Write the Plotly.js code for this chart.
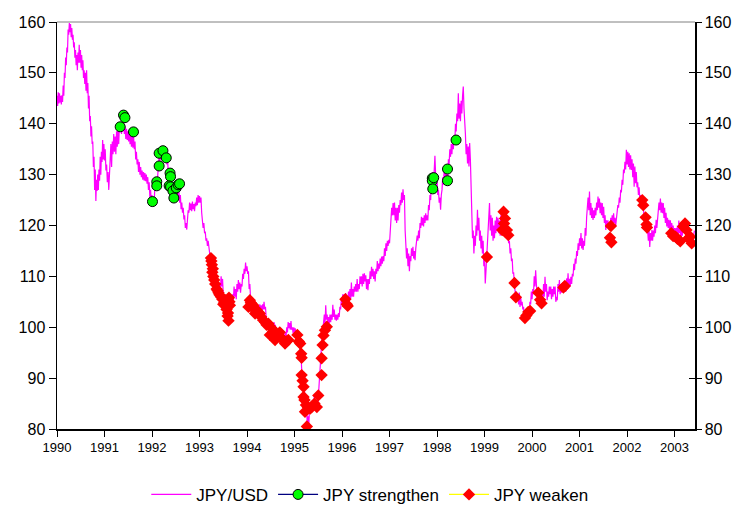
<!DOCTYPE html>
<html>
<head>
<meta charset="utf-8">
<script src="https://cdn.plot.ly/plotly-3.0.1.min.js"></script>
<style>html,body{margin:0;padding:0;background:#fff}#chart{width:744px;height:506px}</style>
</head>
<body>
<div id="chart"></div>
<script>
// JPY/USD readings, evenly spaced within each calendar year
const jpy1990 = [145.5,143.5,146.2,144,146,144.2,145.5,143.8,145.6,144.3,147.5,145.5,150,149,153,151.5,155,154,158.5,157.5,159.8,158,159.6,157,158.8,156.5,157.5,155,156,153,154.5,151.5,153.5,150.5,154,152,155.5,152,154.5,151,153.5,150.5,152.5,149,150.5,147.8,150,146.5,150.5,146,148,143,145.5,140.5,141.5,137.5,139.5,136,136.5,131.5,133.5,127,131,124.8,129,126.8,130,127,131,128.8,133.5,130,134.5,132.5,136.8,133,136];
const jpy1991 = [132.8,135,130.8,132,128.5,130.5,127,131,133,136,131.5,136.5,134,138,134.5,137.5,134,138.5,135.5,139,136,139.5,138.5,140.4,138,140,138.5,140.2,138,139.5,137,139,136.8,138.5,136.5,138.8,136,138.5,135.5,138,135.3,137.5,135,136.5,133,134.5,132,133,130.5,132.5,130,131.5,129.5,130.8,129,130.5,128.8,130.3,128.7,130,128.2,129.5,127,128.5,125.5,127,124];
const jpy1992 = [126,123.7,125.5,124.5,127.5,126.8,128.8,127.8,130,131,133.5,132.5,134.5,133,134.8,133.5,134.3,132.5,134,132.5,133.5,132,132.8,130.2,131,128.5,130,127,128.3,125.7,127.8,126,128.2,126.5,127.8,125.5,127.3,125,126.7,124.5,126,123.2,124.5,122.5,123.5,121.2,122,119.5,120.5,119.2,121.5,123,122.5,124.5,123,124.3,122.8,124.7,123.2,124.2,122.8,124.5,123.8,125.5,124,126,124.5];
const jpy1993 = [125.8,124.5,125.5,122.5,121,119.5,120.5,118.5,118.8,117,117.5,116,117,115.5,114.5,113.5,114,112,111.5,110.5,111,109.5,110.5,108.5,109.5,107.5,108.5,107,108.5,107.5,110,108,109.5,106.5,106,104.5,105,103.5,104,101.5,101,102.5,104,103.5,105.5,104.5,106.5,105.3,108,106,107.5,105.5,108.5,107,109.3,107.5,108.8,106.8,108.5,108,110.5,109.5,111.5,110.5,112.7,111];
const jpy1994 = [112,110.5,111,107.5,108.5,105.5,106,104.5,105.5,103.5,104.5,102.5,103.5,102,103.5,102.5,104,102.8,104.5,103,104.3,102.5,104.5,103.5,105,103.5,104,102,101.5,100,101,99.5,100.5,99,99.8,98.5,100,99.5,101,99.5,100.5,98.5,99.5,98,99,97.5,98.5,97,98.5,97.5,98.5,97,98.5,97.5,99,98,100,99,101,99.8,100.8,99.5,101.2,99.5,100,98.8,100];
const jpy1995 = [99,99.8,98.5,99.2,97.5,98,96.5,97,94.5,95,92,91,89,89.5,87,86,83.5,84,81,82.5,80.5,83.5,84,83.5,85,84,85.5,84.5,86.5,84.5,85.5,84,86,85,87.5,88.5,90.5,93.5,96,98.5,99.5,100.5,102.5,100.5,104.3,101.5,102.5,100.7,102,100.8,102.5,101,102.5,101.5,104.4,102,103.5,101.5,102.5,101.3,102.5,101.5,102.8,102,104,103.5,105.5];
const jpy1996 = [104.5,106.5,104.8,106.5,105,106.7,105,106,105,107,105.5,107.5,105.5,108.8,106,107.5,106,108,107,108.5,107,109.5,107,108.5,107.5,110,108.5,110,108,110.5,108.5,110.6,109,110.2,107.5,109.5,107.3,109.5,108.5,111,109.5,111.9,110,111.5,109.5,111,109,111.5,110.5,113,111,112.5,111.5,113.5,112,113.9,112.5,114,113,115.5,114,116.5,115,117,116,117.2];
const jpy1997 = [116.5,119.5,121,123.5,122,124.4,122,124.5,121,123.5,120.5,123.5,121,124,122.5,125,124,126.5,124.5,127.1,125,126,119,116,113.5,115.5,112,114.5,111,114,113,115.5,114,115.8,113.5,115,113.2,115.5,116.5,118,117,119,117.5,120.5,119.5,121.7,120,121.5,119.8,122,120.5,122.4,121,122,121,124,123,126,125,129,127.5,130.5,128,131,133.7,130,128];
const jpy1998 = [129,126,127,124.5,125.5,123.1,126,127,129.5,128,131,129,131.6,129.5,131,128.5,133,132,135,133.5,136,134,137,135,137.5,136,140,138.5,142,140.5,146,141,144,140.5,144.5,142,145.5,147.3,143,141,138,134,136,132.2,135.5,131.6,136.2,133,129,123,117.5,119,114.5,118,116,120,118,123.1,119,121.5,117,119,115.5,118,114.5,117,112];
const jpy1999 = [114,108.6,111,113.7,116,118,121,124.4,119,122,118,121.5,117,120,117.5,121,118.5,121.7,119,121.5,118.5,121,118,122,119.5,122.5,119,122.4,120,121.5,119,120.5,118.5,118,116.5,117,114.5,115.5,113,113.5,110.5,110.8,108.5,107.5,106,107,105.3,106.5,104.5,106.8,104,106,104.3,105,103.5,104,102,102.5,101.5,102.5,102,103,102,103,105,104.5,107];
const jpy2000 = [105.5,107.5,106.5,110,108,111.2,108.5,106.5,107.5,105,106.5,104,105.5,104.5,107,105.5,108.5,106,109.9,107,108.5,105.3,107,106,108,106.5,108,105.5,107.5,106,108,106.5,108,105,106,105.3,108.5,107,109.3,106.5,108.5,106.8,108.5,107,108.5,107.5,109,107,109.6,107.5,110.6,108,109.5,108,109.9,108.5,110.5,110,112.5,111.2,113.5,112.5,115,114,116.5,115.2];
const jpy2001 = [117.5,116,118.5,115.5,117.5,115.2,117,116,119.5,118,121.7,123,125.5,123,126.7,122,124.4,121.5,123.5,121.1,123,121.5,123.5,122,124.5,123,125.7,123.5,125.3,122.4,124.5,122,124.4,121.5,123.7,120.5,122,119.1,121,119.5,121,119.2,120.5,119,121.5,120,122,120.5,122.4,120.5,121.5,120,122,122.5,124,123.5,125.5,124.5,127,126.5,129,128,131,130.3,132.5,131,134.9];
const jpy2002 = [132,134.5,131.5,134.2,131,133.8,130.9,133,129.5,132.2,127.6,131.6,128.3,130.5,127.5,128.5,126,127.5,125,126,124.4,125,123,123.7,121.5,122,120,120.5,118.5,119,117,119,115.8,118.5,117,119.1,117,119,117.8,120,118.5,121.1,119.5,122,122.4,124.5,123,125.3,122.5,124.5,122.4,124.4,121.5,123.5,120.5,122.5,119.8,121.5,119.5,121.1,119.1,121,119.5,120.5,119,120,118];
const jpy2003 = [119.5,117.5,119.5,117.5,120,118,121,118.5,119.5,117.1,119,118,120.5,119,121.1,119,120.5,118.5,120,117.5,119.5,117,118.5,116.5,118,116.5,117.5,118.5,119];
const samplesPerYear = 67; // sampling density of the partial last year

// JPY strengthen events (decimal year, level)
const strengthenYears  = [1991.33,1991.40,1991.43,1991.61,1992.01,1992.10,1992.10,1992.15,1992.15,1992.23,1992.30,1992.38,1992.39,1992.36,1992.39,1992.44,1992.46,1992.51,1992.55,1992.58,1997.90,1997.90,1997.91,1997.93,1998.22,1998.22,1998.40];
const strengthenValues = [139.4,141.7,141.2,138.4,124.7,128.6,127.8,131.7,134.2,134.7,133.3,130.3,129.6,127.8,127.6,126.8,125.4,127.4,128,128.2,129.3,128.8,127.2,129.4,131.1,128.8,136.8];

// JPY weaken events (decimal year, level)
const weakenYears  = [1993.24,1993.25,1993.26,1993.27,1993.28,1993.29,1993.31,1993.33,1993.36,1993.38,1993.40,1993.42,1993.45,1993.48,1993.50,1993.52,1993.54,1993.56,1993.57,1993.59,1993.60,1993.61,1993.62,1993.63,1993.64,
  1994.03,1994.06,1994.08,1994.10,1994.13,1994.15,1994.17,1994.20,1994.23,1994.27,1994.30,1994.34,1994.38,1994.41,1994.45,1994.48,1994.52,1994.55,1994.59,1994.62,1994.66,1994.69,1994.70,1994.73,1994.76,1994.80,1994.83,1994.87,
  1995.06,1995.09,1995.12,1995.14,1995.15,1995.15,1995.17,1995.19,1995.19,1995.21,1995.24,1995.22,1995.26,1995.28,1995.33,1995.36,1995.42,1995.47,1995.50,1995.57,1995.57,1995.59,1995.61,1995.64,1995.68,
  1996.07,1996.10,1996.12,
  1999.05,1999.37,1999.40,1999.41,1999.43,1999.47,1999.50,1999.63,1999.66,1999.85,1999.88,1999.92,1999.96,
  2000.13,2000.17,2000.20,2000.66,2000.69,
  2001.64,2001.66,2001.67,
  2002.32,2002.34,2002.39,2002.41,2002.42,
  2002.93,2002.97,2003.02,2003.06,2003.12,2003.18,2003.22,2003.25,2003.29,2003.33,2003.36];
const weakenValues = [113.6,113,112.3,110.8,111.5,110,109.3,108.5,107.5,107.2,106.8,106.4,106,105.5,104.5,104.8,105.3,104.2,103.5,102.2,102.8,101.3,105.8,105,104.3,
  104,105.3,104.8,104.5,104.3,103.5,102.7,103.4,103,102.7,102,101.4,101,100.5,100.7,98.5,99.8,99.2,97.5,98.8,98.2,99,98.1,97.8,97.5,96.8,97.2,97.5,
  98.5,97.2,96.8,94.8,94,90.6,89.5,88.3,86.3,85.7,84.7,83.4,80.5,84.3,84,84.3,85,84.3,86.6,90.6,93.9,96.5,98.4,99.4,100.1,
  105.5,104.5,104.2,
  113.8,119.1,122.7,120.4,121.4,119.1,118.1,108.7,105.9,101.8,102.3,103,103.2,
  106.8,105.4,104.7,107.8,108.1,
  117.6,119.9,116.7,
  125,124,121.6,120.2,119.6,
  118.5,117.9,117.8,117.4,116.9,119.8,120.4,119.1,117.5,117.8,116.5];

const yearTicks = [1990,1991,1992,1993,1994,1995,1996,1997,1998,1999,2000,2001,2002,2003];

// build line series
const yearly = [jpy1990,jpy1991,jpy1992,jpy1993,jpy1994,jpy1995,jpy1996,jpy1997,jpy1998,jpy1999,jpy2000,jpy2001,jpy2002,jpy2003];
const lx = [], ly = [];
yearly.forEach((arr, k) => {
  const yr = yearTicks[k];
  const n = (k === yearly.length - 1) ? samplesPerYear : arr.length;
  arr.forEach((v, i) => { lx.push(yr + i / n); ly.push(v); });
});
function gapped(xs, ys) {
  const gx = [], gy = [];
  xs.forEach((x, i) => { gx.push(x, null); gy.push(ys[i], null); });
  return [gx, gy];
}
const [sx, sy] = gapped(strengthenYears, strengthenValues);
const [wx, wy] = gapped(weakenYears, weakenValues);

const FONT = 'Liberation Sans, Arial, sans-serif';
const traces = [
  {x: lx, y: ly, type: 'scatter', mode: 'lines', name: 'JPY/USD',
   line: {color: '#FF00FF', width: 1.2}, hoverinfo: 'skip'},
  {x: sx, y: sy, type: 'scatter', mode: 'lines+markers', name: 'JPY strengthen', connectgaps: false,
   line: {color: '#000080', width: 1.2},
   marker: {symbol: 'circle', size: 10, color: '#00FF00', line: {color: '#000000', width: 1}}},
  {x: wx, y: wy, type: 'scatter', mode: 'lines+markers', name: 'JPY weaken', connectgaps: false,
   line: {color: '#FFFF00', width: 1.2},
   marker: {symbol: 'diamond', size: 9.5, color: '#FF0000', line: {width: 0}}},
  {x: [null], y: [null], yaxis: 'y2', showlegend: false, mode: 'markers', hoverinfo: 'skip'},
  {x: [null], y: [null], yaxis: 'y3', showlegend: false, mode: 'markers', hoverinfo: 'skip'}
];

const layout = {
  width: 744, height: 506,
  margin: {l: 57, r: 49, t: 22, b: 77, pad: 0, autoexpand: false},
  paper_bgcolor: '#ffffff', plot_bgcolor: '#ffffff',
  font: {family: FONT, color: '#000000', size: 16},
  showlegend: true,
  legend: {orientation: 'h', x: 0.497, xref: 'container', xanchor: 'center',
           y: 0.022, yref: 'container', yanchor: 'middle', itemwidth: 40,
           font: {family: FONT, size: 17, color: '#000'}, tracegroupgap: 0},
  xaxis: {range: [1990, 2003.43], tickvals: yearTicks, ticktext: yearTicks.map(String),
          ticks: 'outside', ticklen: 6, tickcolor: '#000', showgrid: false, zeroline: false,
          showline: true, linecolor: '#000', linewidth: 1.5, tickfont: {size: 13, family: FONT},
          automargin: false},
  yaxis: {range: [80, 160], dtick: 10, ticks: 'outside', ticklen: 7, tickcolor: '#000',
          showgrid: false, zeroline: false, showline: true, linecolor: '#000', linewidth: 1.5,
          tickfont: {size: 16, family: FONT}, automargin: false},
  yaxis2: {range: [80, 160], dtick: 10, overlaying: 'y', side: 'right', ticks: 'outside', ticklen: 5,
           tickcolor: '#000', showgrid: false, zeroline: false, showline: true, linecolor: '#000',
           linewidth: 1.5, tickfont: {size: 16, family: FONT}, automargin: false},
  yaxis3: {range: [80, 160], dtick: 10, overlaying: 'y', side: 'right', ticks: 'inside', ticklen: 6,
           tickcolor: '#000', showgrid: false, zeroline: false, showline: false, showticklabels: false,
           automargin: false},
  shapes: [{type: 'line', xref: 'paper', yref: 'paper', x0: 0, x1: 1, y0: 1, y1: 1,
            line: {color: '#808080', width: 1}}]
};

Plotly.newPlot('chart', traces, layout, {displayModeBar: false, staticPlot: true});
</script>
</body>
</html>
